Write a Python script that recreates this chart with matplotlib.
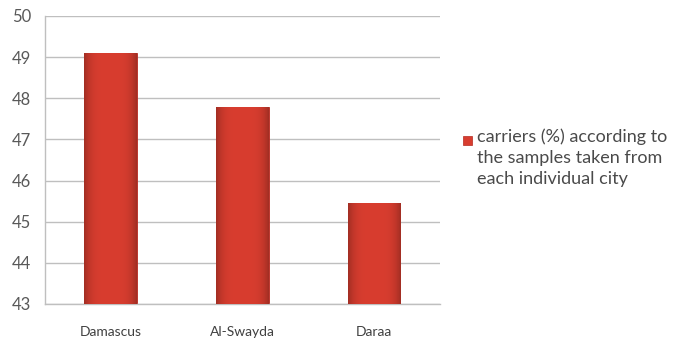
import matplotlib
matplotlib.use('Agg')
import matplotlib.pyplot as plt
from matplotlib.patches import Rectangle
import numpy as np

# data
cities = ['Damascus', 'Al-Swayda', 'Daraa']
carriers = [49.1, 47.8, 45.45]
series_name = 'carriers (%) according to\nthe samples taken from\neach individual city'
y_ticks = [43, 44, 45, 46, 47, 48, 49, 50]

BAR_RED = '#d83d2f'
GRID = '#bfbfbf'

plt.rcParams['font.family'] = ['Lato', 'DejaVu Sans']

fig = plt.figure(figsize=(6.77, 3.40), dpi=100)
ax = fig.add_axes([45/677, 36/340, 395/677, 288/340])

x = np.arange(len(cities))
bars = ax.bar(x, carriers, width=0.4, bottom=0, color=BAR_RED, zorder=2,
              edgecolor='#b5291f', linewidth=0.6)

# horizontal shading across each bar: darker at the sides
grad = np.linspace(-1, 1, 64)
shade = 1 - 0.25 * grad**4
img = np.zeros((1, 64, 3))
base = np.array(matplotlib.colors.to_rgb(BAR_RED))
for i in range(64):
    img[0, i] = base * shade[i]
for b in bars:
    x0, w, h = b.get_x(), b.get_width(), b.get_height()
    im = ax.imshow(img, extent=[x0, x0 + w, 43, h], aspect='auto', zorder=3,
                   interpolation='bilinear')
    im.set_clip_path(b)

ax.set_xlim(-0.5, len(cities) - 0.5)
ax.set_ylim(43, 50)
ax.set_yticks(y_ticks)
ax.set_xticks(x)
ax.set_xticklabels(cities, fontsize=10, color='#404040')
ax.tick_params(axis='y', labelsize=12, labelcolor='#595959', length=0, pad=10)
ax.tick_params(axis='x', length=0, pad=16)
ax.yaxis.grid(True, color=GRID, linewidth=1.0, zorder=0)
for side in ['top', 'right']:
    ax.spines[side].set_visible(False)
for side in ['left', 'bottom']:
    ax.spines[side].set_color(GRID)
    ax.spines[side].set_linewidth(1.0)

# legend
fig.patches.append(Rectangle((463/677, 1 - 145/340), 9/677, 9/340,
                             transform=fig.transFigure, facecolor=BAR_RED,
                             edgecolor='#b5291f', linewidth=0.5))
fig.text(477/677, 1 - 128/340, series_name, ha='left', va='top',
         fontsize=13, color='#4a4a4a', linespacing=1.4)

fig.savefig('out.png', dpi=100)
